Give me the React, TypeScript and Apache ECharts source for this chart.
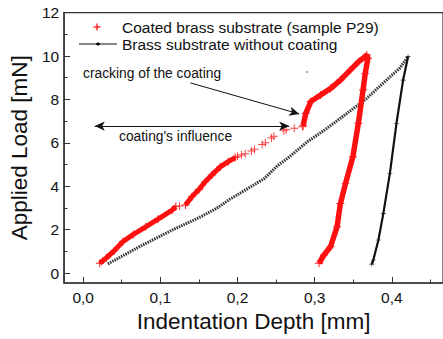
import React, { useEffect, useRef } from 'react';
import * as echarts from 'echarts';

const xMajorTicks = [0, 0.1, 0.2, 0.3, 0.4];
const xMinorTicks = [0.05, 0.15, 0.25, 0.35, 0.45];
const yMajorTicks = [0, 2, 4, 6, 8, 10, 12];
const yMinorTicks = [1, 3, 5, 7, 9, 11];

const coatedName = 'Coated brass substrate (sample P29)';
const bareName = 'Brass substrate without coating';

// coated sample, loading part 1 (dense)
const coatedLoadA = [
  [0.0215, 0.45], [0.03, 0.7], [0.04, 1.02], [0.0513, 1.44], [0.065, 1.78],
  [0.081, 2.13], [0.097, 2.48], [0.1154, 2.9], [0.12, 3.06],
];
// isolated marker in gap
const coatedIsolated = [[0.1248, 3.09]];
// loading part 2 (dense)
const coatedLoadB = [
  [0.1325, 3.13], [0.141, 3.52], [0.15, 3.85], [0.158, 4.2], [0.1667, 4.52],
  [0.178, 4.9], [0.188, 5.13], [0.197, 5.32],
];
// loading part 3 (sparse markers before crack)
const coatedLoadSparse = [
  [0.2, 5.38], [0.205, 5.44], [0.21, 5.5], [0.218, 5.62], [0.222, 5.7],
  [0.232, 5.92], [0.236, 6.0], [0.244, 6.22], [0.247, 6.3], [0.26, 6.55],
  [0.263, 6.6], [0.2735, 6.67], [0.284, 6.74],
];
// crack, further loading and unloading (dense)
const coatedCrackUnload = [
  [0.285, 6.78], [0.2885, 7.36], [0.295, 7.9], [0.3077, 8.2], [0.3205, 8.5],
  [0.3333, 8.89], [0.346, 9.35], [0.357, 9.74], [0.3655, 9.97], [0.3675, 10.05],
  [0.369, 9.9], [0.3655, 9.2], [0.3627, 8.43], [0.3566, 6.9], [0.3495, 5.36],
  [0.34, 4.13], [0.3333, 3.2], [0.329, 2.13], [0.3205, 1.21], [0.312, 0.83],
  [0.3056, 0.45],
];
// uncoated substrate: loading
const bareLoad = [
  [0.032, 0.42], [0.0727, 1.21], [0.1154, 1.98], [0.15, 2.55], [0.173, 2.98],
  [0.19, 3.4], [0.2137, 3.9], [0.235, 4.36], [0.252, 4.95], [0.265, 5.29],
  [0.2906, 6.05], [0.316, 6.67], [0.342, 7.36], [0.3675, 8.05], [0.393, 8.89],
  [0.41, 9.43], [0.421, 9.97],
];
// uncoated substrate: unloading
const bareUnload = [
  [0.421, 9.97], [0.4146, 8.89], [0.406, 6.9], [0.3975, 4.6], [0.389, 2.75],
  [0.3826, 1.52], [0.376, 0.6], [0.374, 0.41],
];

const plusPath = 'path://M4.4,0H5.6V4.4H10V5.6H5.6V10H4.4V5.6H0V4.4H4.4Z';
const FONT = '"Liberation Sans", Arial, sans-serif';
const AXIS = '#333';
const RED = '#ff1010';
const X_MIN = -0.0247;
const X_MAX = 0.4663;
const Y_MIN = -0.46;
const Y_MAX = 12;

export default function App() {
  const ref = useRef<HTMLDivElement>(null);
  useEffect(() => {
    if (!ref.current) return;
    const chart = echarts.init(ref.current, null, { renderer: 'svg' });
    const redLine = (data: number[][], width: number) => ({
      name: coatedName, type: 'line', data, silent: true,
      lineStyle: { color: RED, width },
      itemStyle: { color: RED },
      symbol: plusPath, symbolSize: 8, showSymbol: true,
    });
    const redScatter = (data: number[][]) => ({
      name: coatedName, type: 'scatter', data, symbol: plusPath, symbolSize: 8,
      itemStyle: { color: RED }, silent: true,
    });
    const gridBox = { left: 64, top: 12.6, width: 383, height: 270.4 };
    const option: any = {
      animation: false,
      textStyle: { fontFamily: FONT },
      grid: [
        { ...gridBox, show: true, borderColor: AXIS, borderWidth: 1.2 },
        { ...gridBox, show: false },
      ],
      xAxis: [
        {
          type: 'value', min: X_MIN, max: X_MAX, gridIndex: 0,
          name: 'Indentation Depth [mm]', nameLocation: 'middle', nameGap: 27,
          nameTextStyle: { fontSize: 22.5, color: '#111', fontFamily: FONT },
          axisLine: { show: true, onZero: false, lineStyle: { color: AXIS, width: 1.5 } },
          axisTick: { show: true, inside: true, length: 6, customValues: xMajorTicks, lineStyle: { color: AXIS } },
          axisLabel: { customValues: xMajorTicks, fontSize: 15.5, color: '#111', margin: 6, fontFamily: FONT,
            formatter: (v: number) => v.toFixed(1).replace('.', ',') },
          splitLine: { show: false },
        },
        {
          type: 'value', min: X_MIN, max: X_MAX, gridIndex: 1,
          axisLine: { show: false, onZero: false },
          axisTick: { show: true, inside: true, length: 3.5, customValues: xMinorTicks, lineStyle: { color: AXIS } },
          axisLabel: { show: false },
          splitLine: { show: false },
        },
      ],
      yAxis: [
        {
          type: 'value', min: Y_MIN, max: Y_MAX, gridIndex: 0,
          name: 'Applied Load [mN]', nameLocation: 'middle', nameGap: 29,
          nameTextStyle: { fontSize: 22.5, color: '#111', fontFamily: FONT },
          axisLine: { show: true, onZero: false, lineStyle: { color: AXIS, width: 1.5 } },
          axisTick: { show: true, inside: true, length: 6, customValues: yMajorTicks, lineStyle: { color: AXIS } },
          axisLabel: { customValues: yMajorTicks, fontSize: 15.5, color: '#111', margin: 5, fontFamily: FONT },
          splitLine: { show: false },
        },
        {
          type: 'value', min: Y_MIN, max: Y_MAX, gridIndex: 1,
          axisLine: { show: false, onZero: false },
          axisTick: { show: true, inside: true, length: 3.5, customValues: yMinorTicks, lineStyle: { color: AXIS } },
          axisLabel: { show: false },
          splitLine: { show: false },
        },
      ],
      series: [
        {
          name: bareName, type: 'line', data: bareLoad, silent: true,
          lineStyle: { color: '#333', width: 3, type: [1.5, 1] },
          showSymbol: false, symbol: 'none',
          markLine: {
            silent: true,
            lineStyle: { color: '#111', width: 1, type: 'solid' },
            label: { show: false },
            symbolSize: [7, 10],
            data: [
              [{ coord: [0.139, 8.76], symbol: 'none' }, { coord: [0.28, 7.33], symbol: 'arrow' }],
              [{ coord: [0.267, 6.77], symbol: 'arrow' }, { coord: [0.015, 6.77], symbol: 'arrow' }],
            ],
          },
        },
        {
          name: bareName, type: 'line', data: bareUnload, silent: true,
          lineStyle: { color: '#111', width: 2.2 },
          itemStyle: { color: '#111' },
          symbol: plusPath, symbolSize: 5, showSymbol: true,
        },
        redLine(coatedLoadA, 5),
        redScatter(coatedIsolated),
        redLine(coatedLoadB, 5),
        redScatter(coatedLoadSparse),
        redLine(coatedCrackUnload, 5.5),
      ],
      graphic: [
        { type: 'line', shape: { x1: 93.5, y1: 27, x2: 100.5, y2: 27 }, style: { stroke: RED, lineWidth: 1.3 } },
        { type: 'line', shape: { x1: 97, y1: 23.5, x2: 97, y2: 30.5 }, style: { stroke: RED, lineWidth: 1.3 } },
        { type: 'text', x: 122, y: 27, style: { text: coatedName, font: `15.5px ${FONT}`, fill: '#111', verticalAlign: 'middle' } },
        { type: 'line', shape: { x1: 79, y1: 44, x2: 117, y2: 44 }, style: { stroke: '#111', lineWidth: 1.2 } },
        { type: 'line', shape: { x1: 96, y1: 44, x2: 100, y2: 44 }, style: { stroke: '#111', lineWidth: 2 } },
        { type: 'line', shape: { x1: 98, y1: 42, x2: 98, y2: 46 }, style: { stroke: '#111', lineWidth: 1 } },
        { type: 'text', x: 122, y: 44, style: { text: bareName, font: `15.5px ${FONT}`, fill: '#111', verticalAlign: 'middle' } },
        { type: 'text', x: 83, y: 73, style: { text: 'cracking of the coating', font: `13.8px ${FONT}`, fill: '#111', verticalAlign: 'middle' } },
        { type: 'text', x: 119, y: 136, style: { text: "coating's influence", font: `13.8px ${FONT}`, fill: '#111', verticalAlign: 'middle' } },
        { type: 'circle', shape: { cx: 307, cy: 72, r: 0.8 }, style: { fill: '#777' } },
      ],
    };
    chart.setOption(option);
    return () => chart.dispose();
  }, []);
  return <div ref={ref} style={{ position: 'fixed', left: 0, top: 0, width: 443, height: 339, background: '#fff' }} />;
}
